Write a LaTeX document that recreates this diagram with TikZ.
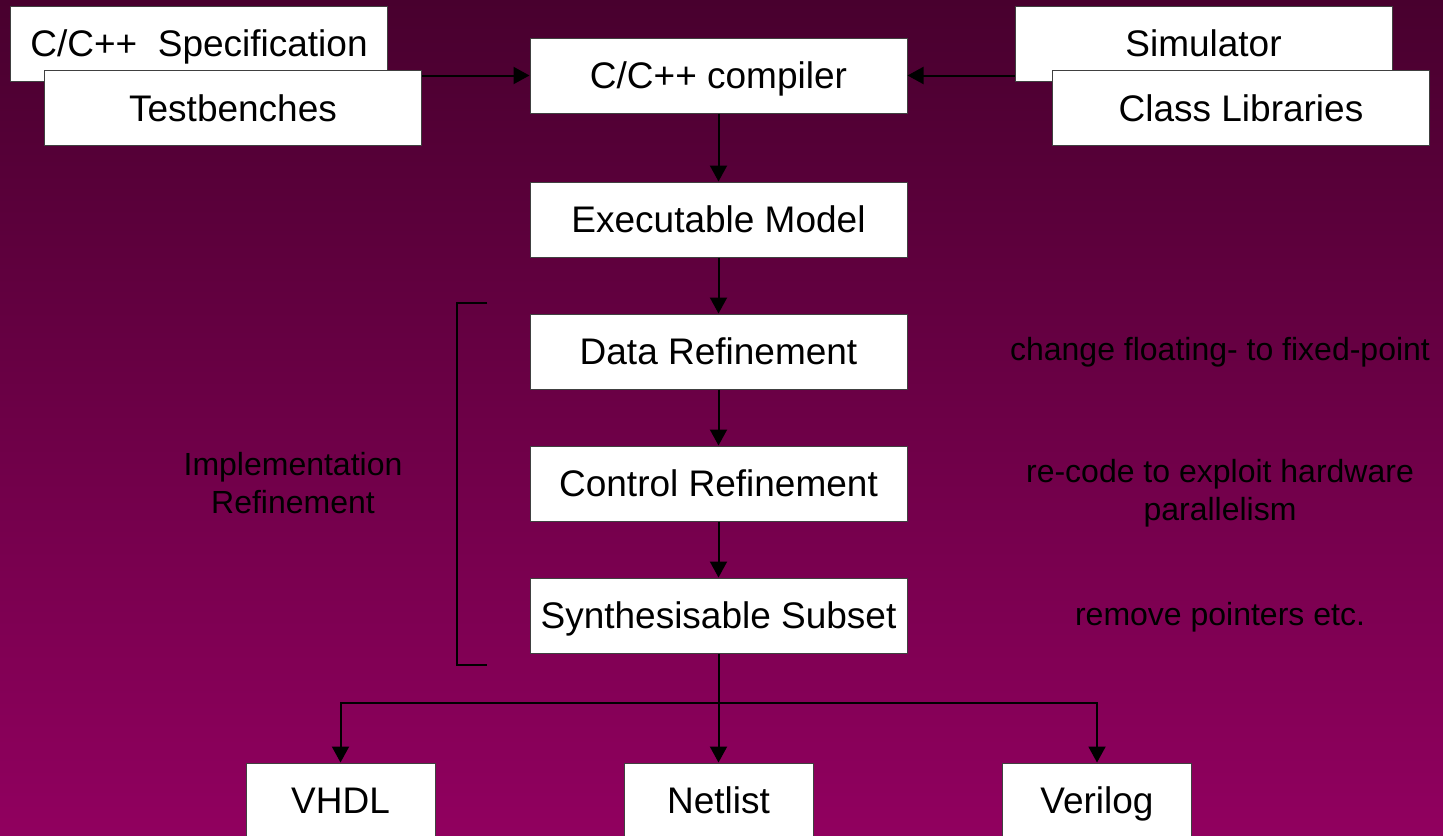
\documentclass[tikz,border=0pt]{standalone}
\usepackage{xcolor}
\usepackage{tikz}
\usepackage{fontspec}
\setsansfont{Liberation Sans}
\usetikzlibrary{arrows.meta}
\usetikzlibrary{calc,positioning}
\definecolor{bgtop}{RGB}{72,0,46}
\definecolor{bgbot}{RGB}{145,0,95}
\tikzset{%
  >={Triangle[width=8.5pt,length=8pt]},
  % Specifications for style of nodes:
  stage/.style = {rectangle, draw=black!75, line width=0.5pt, fill=white,
    minimum width=188.5pt,
    minimum height=37.5pt,
    inner sep=0pt, text height=14pt, text depth=1pt,
    text centered, font=\sffamily\fontsize{18.5}{22}\selectfont},
  target/.style = {stage, minimum width=94.5pt},
  remark/.style = {font=\sffamily\fontsize{16}{19}\selectfont, align=center},
}

\begin{document}
\begin{tikzpicture}[x=0.5pt, y=-0.5pt, node distance=66pt, line width=1pt]
        % background
        \clip (0,0) rectangle (1443,835);
        \shade[top color=bgtop, bottom color=bgbot] (0,0) rectangle (1443,835);
        % Specification of nodes (position, etc.)
        \node(Spec)[stage] at (199,43.5) {C/C++\ \ Specification};
        \node(Test)[stage] at (233,108) {Testbenches};
        \node(Sim)[stage] at (1203.5,43.5) {Simulator};
        \node(Lib)[stage] at (1241,108) {Class Libraries};
        \node(Comp)[stage] at (718.5,75.5) {C/C++ compiler};
        \node(Exec)[stage,below of=Comp,yshift=-6pt]{Executable Model};
        \node(Data)[stage,below of=Exec]{Data Refinement};
        \node(Ctrl)[stage,below of=Data]{Control Refinement};
        \node(Synth)[stage,below of=Ctrl]{Synthesisable Subset};
        \node(VHDL)[target] at (340.5,800.5) {VHDL};
        \node(Net)[target] at (718.5,800.5) {Netlist};
        \node(Veri)[target] at (1097,800.5) {Verilog};
        \coordinate(split) at (718.5,703);
        % remarks
        \node(Impl)[remark] at (293,483) {Implementation\\Refinement};
        \node(DataR)[remark] at (1220,352) {change floating- to fixed-point};
        \node(CtrlR)[remark] at (1220,493) {re-code to exploit hardware\\parallelism};
        \node(SynthR)[remark] at (1220,617) {remove pointers etc.};
        % bracket
        \draw (487,303) -- (457,303) -- (457,665) -- (487,665);
        % connectors
        \draw[->](Test.east |- Comp) -- (Comp);
        \draw[->](Sim.west |- Comp) -- (Comp);
        \draw[->](Comp) -- (Exec);
        \draw[->](Exec) -- (Data);
        \draw[->](Data) -- (Ctrl);
        \draw[->](Ctrl) -- (Synth);
        \draw[->](Synth) -- (Net);
        \draw[->](split) -| (VHDL.north);
        \draw[->](split) -| (Veri.north);
    \end{tikzpicture}
\end{document}
